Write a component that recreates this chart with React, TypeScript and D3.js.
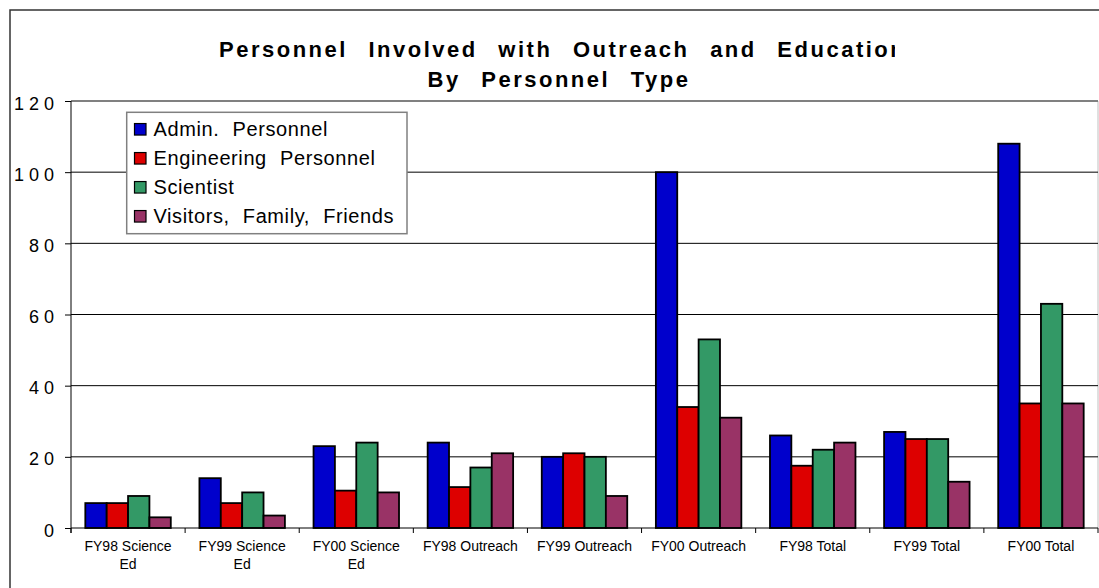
import { useRef, useEffect } from "react";
import * as d3 from "d3";

const categories = [
  "FY98 Science Ed",
  "FY99 Science Ed",
  "FY00 Science Ed",
  "FY98 Outreach",
  "FY99 Outreach",
  "FY00 Outreach",
  "FY98 Total",
  "FY99 Total",
  "FY00 Total",
];
const seriesNames = ["Admin. Personnel", "Engineering Personnel", "Scientist", "Visitors, Family, Friends"];
const adminValues = [7, 14, 23, 24, 20, 100, 26, 27, 108];
const engineeringValues = [7, 7, 10.5, 11.5, 21, 34, 17.5, 25, 35];
const scientistValues = [9, 10, 24, 17, 20, 53, 22, 25, 63];
const visitorValues = [3, 3.5, 10, 21, 9, 31, 24, 13, 35];
const yTicks = [0, 20, 40, 60, 80, 100, 120];
const seriesColors = ["#0000cc", "#dd0000", "#339966", "#993366"];
const titleLines = ["Personnel Involved with Outreach and Education", "By Personnel Type"];

const FONT = "Arial, 'Liberation Sans', sans-serif";

// greedy word wrap, measured with a canvas
function wrapLabel(text: string, maxWidth: number, font: string) {
  const ctx = document.createElement("canvas").getContext("2d")!;
  ctx.font = font;
  const words = text.split(" ");
  const lines: string[] = [];
  let line = "";
  words.forEach((w) => {
    const test = line ? line + " " + w : w;
    if (line && ctx.measureText(test).width > maxWidth) {
      lines.push(line);
      line = w;
    } else {
      line = test;
    }
  });
  if (line) lines.push(line);
  return lines;
}

function Chart() {
  const svgRef = useRef(null);

  useEffect(() => {
    const w = 1099;
    const h = 588;
    const plotLeft = 71;
    const plotRight = 1098;
    const plotTop = 101;
    const plotBottom = 528;

    const values = [adminValues, engineeringValues, scientistValues, visitorValues];
    const rows = categories.map((c, i) => ({
      category: c,
      items: seriesNames.map((s, j) => ({ series: s, value: values[j][i] })),
    }));

    const x0 = d3.scaleBand().domain(categories).range([plotLeft, plotRight]).paddingInner(0).paddingOuter(0);
    const x1 = d3.scaleBand().domain(seriesNames).range([0, x0.bandwidth()]).paddingInner(0).paddingOuter(0.67);
    const y = d3.scaleLinear().domain([0, 120]).range([plotBottom, plotTop]);
    const color = d3.scaleOrdinal<string, string>().domain(seriesNames).range(seriesColors);

    const svg = d3.select(svgRef.current);
    svg.selectAll("*").remove();
    svg.attr("width", w).attr("height", h);

    svg.append("rect").attr("width", w).attr("height", h).attr("fill", "#fff");

    // chart frame (runs off the picture on the right and bottom)
    svg
      .append("rect")
      .attr("x", 10)
      .attr("y", 10)
      .attr("width", 1200)
      .attr("height", 700)
      .attr("fill", "none")
      .attr("stroke", "#333")
      .attr("stroke-width", 1.5);

    // title, first line is clipped like the original
    const defs = svg.append("defs");
    defs
      .append("clipPath")
      .attr("id", "titleClip")
      .append("rect")
      .attr("x", 0)
      .attr("y", 0)
      .attr("width", 895)
      .attr("height", 100);

    const title = svg
      .append("g")
      .attr("font-family", FONT)
      .attr("font-weight", "bold")
      .attr("font-size", 22)
      .attr("letter-spacing", 2.5)
      .attr("word-spacing", 12)
      .attr("fill", "#000");
    title
      .append("text")
      .attr("clip-path", "url(#titleClip)")
      .attr("x", 219)
      .attr("y", 57)
      .text(titleLines[0]);
    title.append("text").attr("x", 559).attr("y", 87).attr("text-anchor", "middle").text(titleLines[1]);

    // right border of plot area
    svg
      .append("line")
      .attr("x1", plotRight)
      .attr("x2", plotRight)
      .attr("y1", plotTop)
      .attr("y2", plotBottom)
      .attr("stroke", "#c0c0c0")
      .attr("stroke-width", 1);

    // gridlines
    svg
      .append("g")
      .selectAll("line")
      .data(yTicks.filter((t) => t > 0))
      .join("line")
      .attr("x1", plotLeft)
      .attr("x2", plotRight)
      .attr("y1", (d) => y(d))
      .attr("y2", (d) => y(d))
      .attr("stroke", (d) => (d === 120 ? "#808080" : "#000"))
      .attr("stroke-width", (d) => (d === 120 ? 2 : 1));

    // bars
    const groups = svg
      .append("g")
      .selectAll("g")
      .data(rows)
      .join("g")
      .attr("transform", (d) => `translate(${x0(d.category)},0)`);
    groups
      .selectAll("rect")
      .data((d) => d.items)
      .join("rect")
      .attr("x", (d) => x1(d.series)!)
      .attr("y", (d) => y(d.value))
      .attr("width", x1.bandwidth())
      .attr("height", (d) => y(0) - y(d.value))
      .attr("fill", (d) => color(d.series))
      .attr("stroke", "#000")
      .attr("stroke-width", 1.8);

    // y axis
    const yAxis = svg
      .append("g")
      .attr("transform", `translate(${plotLeft},0)`)
      .call(d3.axisLeft(y).tickValues(yTicks).tickSize(6).tickSizeOuter(0).tickPadding(6));
    yAxis.select(".domain").attr("stroke", "#000").attr("d", `M0,${plotTop}V${plotBottom + 5}`);
    yAxis.selectAll(".tick line").attr("stroke", "#000");
    yAxis
      .selectAll(".tick text")
      .attr("dy", "0.45em")
      .attr("fill", "#000")
      .attr("font-family", FONT)
      .attr("font-size", 18)
      .attr("letter-spacing", 5);

    // x axis
    const xAxis = svg.append("g");
    xAxis
      .append("line")
      .attr("x1", plotLeft)
      .attr("x2", plotRight)
      .attr("y1", plotBottom)
      .attr("y2", plotBottom)
      .attr("stroke", "#000");
    const boundaries = categories.map((c) => x0(c)!).concat([plotRight]);
    xAxis
      .selectAll("line.tick")
      .data(boundaries)
      .join("line")
      .attr("class", "tick")
      .attr("x1", (d) => d)
      .attr("x2", (d) => d)
      .attr("y1", plotBottom)
      .attr("y2", plotBottom + 5)
      .attr("stroke", "#000");

    const labelFont = `14px ${FONT}`;
    const labels = xAxis
      .selectAll("text")
      .data(categories)
      .join("text")
      .attr("x", (d) => x0(d)! + x0.bandwidth() / 2)
      .attr("y", 550.5)
      .attr("text-anchor", "middle")
      .attr("font-family", FONT)
      .attr("font-size", 14)
      .attr("fill", "#000");
    labels.each(function (d) {
      const lines = wrapLabel(d, 106, labelFont);
      const t = d3.select(this);
      lines.forEach((ln, i) => {
        t.append("tspan")
          .attr("x", x0(d)! + x0.bandwidth() / 2)
          .attr("dy", i === 0 ? 0 : 18.5)
          .text(ln);
      });
    });

    // legend
    const legend = svg.append("g");
    legend
      .append("rect")
      .attr("x", 126.7)
      .attr("y", 112.3)
      .attr("width", 280.3)
      .attr("height", 121.4)
      .attr("fill", "#fff")
      .attr("stroke", "#808080")
      .attr("stroke-width", 1.5);
    const items = legend
      .selectAll("g")
      .data(seriesNames)
      .join("g")
      .attr("transform", (d, i) => `translate(0,${129.3 + i * 29})`);
    items
      .append("rect")
      .attr("x", 134.5)
      .attr("y", -5.75)
      .attr("width", 11.5)
      .attr("height", 11.5)
      .attr("fill", (d) => color(d))
      .attr("stroke", "#000")
      .attr("stroke-width", 1.2);
    items
      .append("text")
      .attr("x", 153.5)
      .attr("y", 7)
      .attr("font-family", FONT)
      .attr("font-size", 20)
      .attr("letter-spacing", 0.6)
      .attr("word-spacing", 7)
      .attr("fill", "#000")
      .text((d) => d);
  }, []);

  return <svg ref={svgRef} style={{ position: "absolute", left: 0, top: 0, display: "block" }}></svg>;
}

export default function App() {
  return <Chart />;
}
